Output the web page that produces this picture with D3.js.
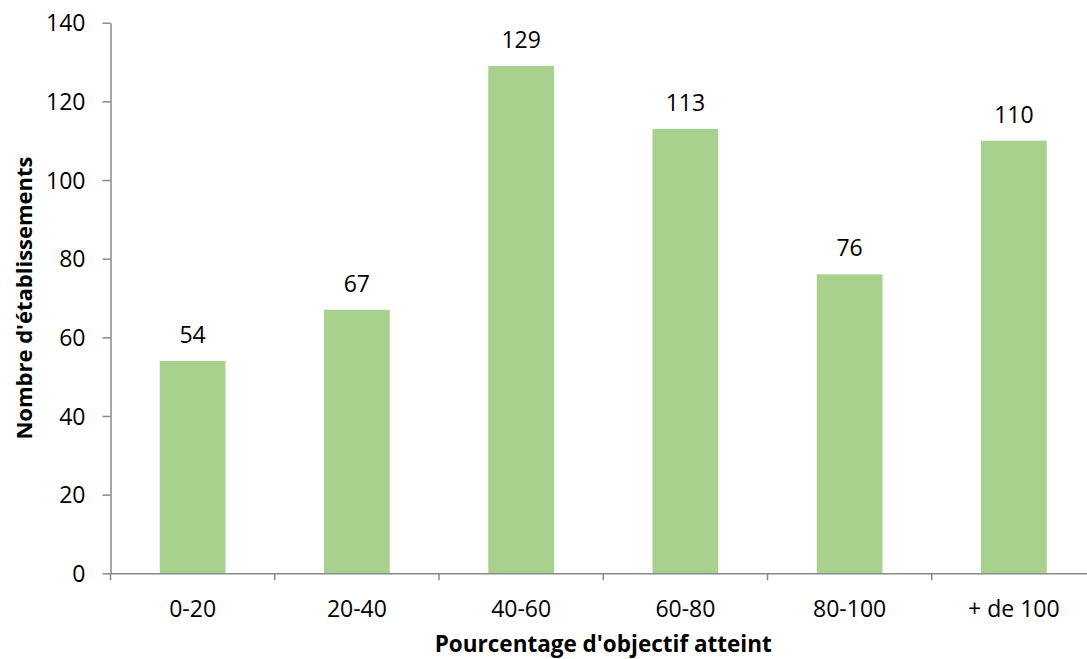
<!DOCTYPE html>
<html>
<head>
<meta charset="utf-8">
<script src="https://cdn.jsdelivr.net/npm/d3@7"></script>
<style>
  html, body { margin: 0; padding: 0; background: #ffffff; }
  svg { display: block; font-family: "Open Sans", "Liberation Sans", sans-serif; }
</style>
</head>
<body>
<svg id="chart" width="1087" height="659"></svg>
<script>
// Number of establishments by share of objective reached
const categories = ["0-20", "20-40", "40-60", "60-80", "80-100", "+ de 100"];
const counts = [54, 67, 129, 113, 76, 110];
const yTicks = [0, 20, 40, 60, 80, 100, 120, 140];
const xTitle = "Pourcentage d'objectif atteint";
const yTitle = "Nombre d'établissements";

const svg = d3.select("#chart");
const axisColor = "#898989";
const barColor = "#A9D18E";

const plot = { left: 110.5, right: 1096, top: 22.7, bottom: 573.3 };

const x = d3.scaleBand()
  .domain(categories)
  .range([plot.left, plot.right])
  .paddingInner(0.6)
  .paddingOuter(0.3);

const y = d3.scaleLinear()
  .domain([0, 140])
  .range([plot.bottom, plot.top]);

// Bars
svg.append("g")
  .selectAll("rect")
  .data(counts)
  .join("rect")
  .attr("x", (d, i) => x(categories[i]))
  .attr("y", d => y(d))
  .attr("width", x.bandwidth())
  .attr("height", d => y(0) - y(d))
  .attr("fill", barColor);

// Value labels
svg.append("g")
  .selectAll("text")
  .data(counts)
  .join("text")
  .attr("x", (d, i) => x(categories[i]) + x.bandwidth() / 2)
  .attr("y", d => y(d) - 18)
  .attr("text-anchor", "middle")
  .attr("font-size", 23)
  .attr("fill", "#000")
  .text(d => d);

// Y axis
const yAxis = svg.append("g")
  .attr("transform", `translate(${plot.left},0)`)
  .call(d3.axisLeft(y).tickValues(yTicks).tickSize(8).tickPadding(17).tickSizeOuter(0));
yAxis.select(".domain").attr("stroke", axisColor).attr("stroke-width", 1.5);
yAxis.selectAll(".tick line").attr("stroke", axisColor).attr("stroke-width", 1.5);
yAxis.selectAll(".tick text")
  .attr("font-size", 23)
  .attr("font-family", "\"Open Sans\", sans-serif")
  .attr("fill", "#000")
  .attr("dy", "0.35em");

// X axis with ticks at category boundaries
const xAxis = svg.append("g")
  .attr("transform", `translate(0,${plot.bottom})`)
  .call(d3.axisBottom(x).tickSize(0).tickPadding(0).tickSizeOuter(0));
xAxis.select(".domain").attr("stroke", axisColor).attr("stroke-width", 1.5);
xAxis.selectAll(".tick text")
  .attr("font-size", 23)
  .attr("font-family", "\"Open Sans\", sans-serif")
  .attr("fill", "#000")
  .attr("y", 43.4)
  .attr("dy", 0);

const boundaries = categories.map(c => x(c) - x.step() * x.paddingInner() / 2)
  .concat([x(categories[categories.length - 1]) + x.bandwidth() + x.step() * x.paddingInner() / 2]);
xAxis.append("g")
  .selectAll("line")
  .data(boundaries)
  .join("line")
  .attr("x1", d => d)
  .attr("x2", d => d)
  .attr("y1", 0)
  .attr("y2", 7)
  .attr("stroke", axisColor)
  .attr("stroke-width", 1.5);

// Axis titles
svg.append("text")
  .attr("x", (plot.left + plot.right) / 2)
  .attr("y", 652)
  .attr("text-anchor", "middle")
  .attr("font-size", 22.5)
  .attr("font-weight", "bold")
  .attr("fill", "#000")
  .text(xTitle);

svg.append("text")
  .attr("transform", `translate(32,${(plot.top + plot.bottom) / 2}) rotate(-90)`)
  .attr("text-anchor", "middle")
  .attr("font-size", 22)
  .attr("font-weight", "bold")
  .attr("fill", "#000")
  .text(yTitle);
</script>
</body>
</html>
